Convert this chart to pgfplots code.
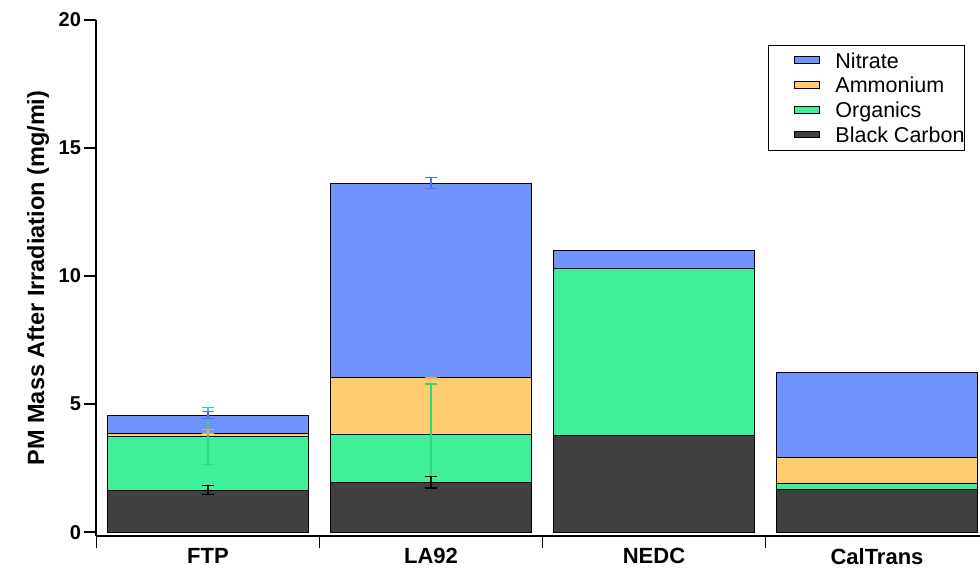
\documentclass[border=0pt]{standalone}
\usepackage{pgfplots}
\pgfplotsset{compat=1.18}
\usepackage{fontspec}
\setmainfont{Liberation Sans}
\definecolor{nitrate}{RGB}{111,146,255}
\definecolor{ammon}{RGB}{255,204,112}
\definecolor{organ}{RGB}{64,239,152}
\definecolor{bc}{RGB}{64,64,64}
\definecolor{errblue}{RGB}{80,110,255}
\definecolor{errorg}{RGB}{240,170,90}
\definecolor{errgreen}{RGB}{40,220,120}
\begin{document}
\begin{tikzpicture}
\pgfplotsset{
  base/.style={
    scale only axis, width=883.5pt, height=516pt,
    xmin=-0.5, xmax=3.462, ymin=-0.15, ymax=20,
    at={(0pt,0pt)}, anchor=south west,
  },
  errb/.style={
    draw=none, mark=none,
    error bars/.cd, y dir=both, y explicit,
    error bar style={draw=#1, line width=1.3pt},
    error mark options={rotate=90, mark size=6pt, draw=#1, line width=1.3pt},
  },
}
\path[use as bounding box] (-96.5pt,-32pt) rectangle (883.5pt,536pt);
\begin{axis}[base,
  ybar stacked, bar width=0.9,
  axis x line*=bottom, axis y line*=left,
  axis line style={-, line width=2pt},
  tick align=outside, major tick length=12pt,
  ytick={0,5,10,15,20},
  ytick style={black, line width=1.5pt},
  yticklabel style={font=\fontsize{20}{24}\selectfont\bfseries},
  /pgf/number format/assume math mode=true,
  xtick={0,1,2,3},
  xticklabels={FTP,LA92,NEDC,CalTrans},
  xtick style={draw=none},
  xticklabel style={font=\fontsize{22}{26}\selectfont\bfseries, yshift=3pt},
  extra x ticks={-0.5,0.5,1.5,2.5},
  extra x tick labels={},
  extra x tick style={x tick style={draw=black, line width=1.5pt}},
  ylabel={PM Mass After Irradiation (mg/mi)},
  ylabel style={font=\fontsize{23.5}{27}\selectfont\bfseries, at={(axis description cs:-0.066,0.5)}, anchor=center},
  reverse legend,
  legend cell align=left,
  legend style={at={(axis description cs:0.760,0.9516)}, anchor=north west,
    font=\fontsize{21.5}{25}\selectfont, draw=black, line width=1pt,
    inner xsep=0pt, inner ysep=5pt, row sep=3.7pt,
    nodes={inner xsep=0pt}},
  legend image code/.code={\path (0pt,0pt) (66pt,0pt);\draw[#1, draw=black, line width=0.8pt] (25pt,-0.25em) rectangle (50pt,0.42em);},
]
\addplot[fill=bc, draw=black, line width=1pt] coordinates {(0,1.64) (1,1.94) (2,3.76) (3,1.65)};
\addlegendentry{Black Carbon}
\addplot[fill=organ, draw=black, line width=1pt] coordinates {(0,2.08) (1,1.86) (2,6.54) (3,0.24)};
\addlegendentry{Organics}
\addplot[fill=ammon, draw=black, line width=1pt] coordinates {(0,0.12) (1,2.22) (2,0) (3,1.03)};
\addlegendentry{Ammonium}
\addplot[fill=nitrate, draw=black, line width=1pt] coordinates {(0,0.72) (1,7.60) (2,0.69) (3,3.33)};
\addlegendentry{Nitrate}
\end{axis}
\begin{axis}[base, hide axis]
\addplot[errb=errgreen] coordinates {(0,3.75) +- (0,1.12) (1,3.97) +- (0,1.81)};
\addplot[errb=black] coordinates {(0,1.64) +- (0,0.17) (1,1.94) +- (0,0.22)};
\addplot[errb=errorg] coordinates {(0,3.92) +- (0,0.08) (1,6.02) +- (0,0.03)};
\addplot[errb=errblue] coordinates {(0,4.57) +- (0,0.13) (1,13.645) +- (0,0.215)};
\end{axis}
\end{tikzpicture}
\end{document}
